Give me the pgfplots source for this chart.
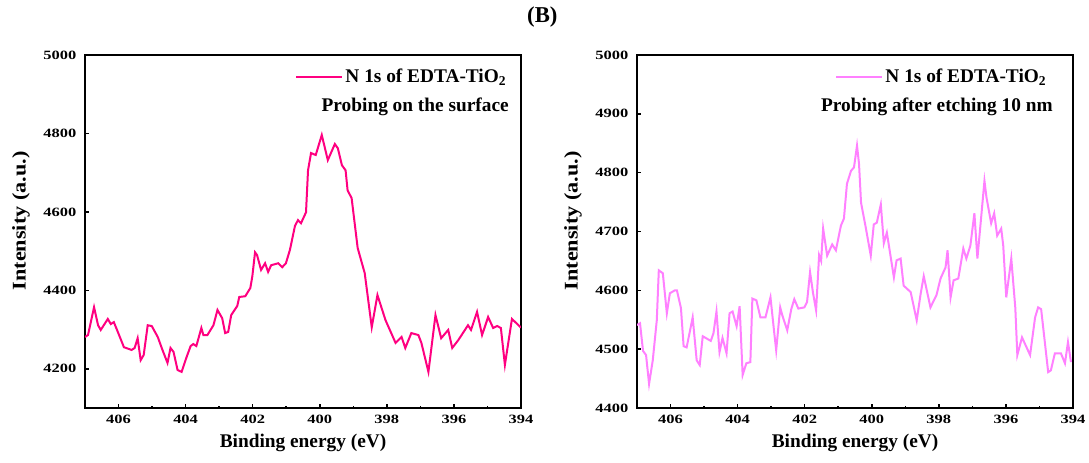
\documentclass[border=0pt]{standalone}
\usepackage{fontspec}
\setmainfont{Liberation Serif}
\usepackage{pgfplots}
\pgfplotsset{compat=1.18}
\definecolor{leftpink}{RGB}{255,0,128}
\definecolor{rightpink}{RGB}{255,128,255}

\pgfplotsset{
  xpsstyle/.style={
    width=327pt, height=264.75pt, scale only axis,
    x dir=reverse, xmin=394, xmax=407,
    xtick={394,396,...,406}, minor xtick={395,397,...,405},
    xtick pos=left, ytick pos=left,
    tick align=inside,
    major tick length=3pt, minor tick length=1.6pt,
    axis line style={line width=1.5pt},
    every tick/.style={black, line width=1.2pt},
    /pgf/number format/assume math mode=true,
    /pgf/number format/1000 sep={},
    tick label style={font=\bfseries\fontsize{9.5}{9.5}\selectfont, xscale=1.3},
    xticklabel style={yshift=-1.5pt},
    yticklabel style={xshift=-1.5pt},
    xlabel={\bfseries Binding energy (eV)},
    ylabel={\bfseries Intensity (a.u.)},
    label style={font=\bfseries\fontsize{14.5}{14.5}\selectfont},
    xlabel style={at={(axis description cs:0.5,-0.099)}, anchor=center},
    ylabel style={at={(axis description cs:-0.147,0.53)}, anchor=center, xscale=1.15},
    legend style={draw=none, fill=none, inner sep=0pt, outer sep=0pt,
      font=\bfseries\fontsize{14.5}{14.5}\selectfont, anchor=east,
      /tikz/every even column/.append style={column sep=3pt}},
    legend image code/.code={\draw[#1] (0pt,0pt) -- (34pt,0pt);},
  }
}

\begin{document}
\begin{tikzpicture}
\begin{axis}[xpsstyle, at={(0pt,0pt)}, anchor=south west,
    ymin=4100, ymax=5000, ytick={4200,4400,...,5000},
    legend style={at={(rel axis cs:0.9725,0.9377)}}]
\addplot[leftpink, line width=1.5pt] coordinates {
(407.00,4281) (406.91,4286) (406.73,4357) (406.61,4311) (406.53,4299)
(406.32,4327) (406.23,4314) (406.14,4319) (405.96,4281) (405.84,4255)
(405.61,4248) (405.52,4253) (405.43,4278) (405.34,4222) (405.25,4235)
(405.13,4311) (405.01,4309) (404.83,4281) (404.69,4248) (404.54,4215)
(404.45,4253) (404.36,4243) (404.24,4197) (404.12,4192) (403.97,4230)
(403.85,4258) (403.77,4263) (403.68,4258) (403.53,4304) (403.47,4286)
(403.35,4286) (403.17,4311) (403.05,4350) (402.91,4329) (402.82,4291)
(402.73,4294) (402.64,4337) (402.46,4360) (402.40,4383) (402.22,4385)
(402.07,4406) (402.01,4436) (401.93,4497) (401.87,4490) (401.75,4452)
(401.63,4469) (401.54,4447) (401.45,4464) (401.24,4469) (401.12,4459)
(401.01,4469) (400.89,4503) (400.74,4564) (400.65,4579) (400.56,4571)
(400.41,4599) (400.35,4706) (400.26,4750) (400.12,4745) (399.94,4796)
(399.76,4732) (399.55,4773) (399.46,4762) (399.34,4719) (399.23,4706)
(399.17,4655) (399.05,4635) (398.87,4508) (398.66,4444) (398.45,4306)
(398.28,4388) (398.04,4324) (397.74,4266) (397.56,4281) (397.45,4253)
(397.27,4291) (397.06,4286) (396.97,4266) (396.76,4192) (396.55,4337)
(396.38,4278) (396.17,4299) (396.05,4253) (395.87,4273) (395.58,4311)
(395.49,4299) (395.31,4345) (395.16,4286) (394.98,4332) (394.83,4304)
(394.71,4309) (394.60,4304) (394.48,4210) (394.27,4327) (394.00,4305)
};
\addlegendentry{N 1s of EDTA-TiO\textsubscript{2}}
\node[anchor=east, inner sep=0pt, font=\bfseries\fontsize{14.5}{14.5}\selectfont]
  at (rel axis cs:0.9725,0.8527) {Probing on the surface};
\end{axis}

\begin{axis}[xpsstyle, at={(414pt,0pt)}, anchor=south west,
    ymin=4400, ymax=5000, ytick={4400,4500,...,5000},
    legend style={at={(rel axis cs:0.945,0.9377)}}]
\addplot[rightpink, line width=1.5pt] coordinates {
(407.00,4541) (406.91,4544) (406.82,4497) (406.73,4490) (406.64,4441)
(406.53,4481) (406.41,4549) (406.35,4634) (406.23,4629) (406.11,4561)
(406.02,4595) (405.87,4600) (405.81,4600) (405.69,4570) (405.61,4505)
(405.52,4503) (405.34,4554) (405.22,4481) (405.13,4473) (405.04,4522)
(404.80,4514) (404.72,4527) (404.63,4564) (404.54,4495) (404.45,4519)
(404.33,4493) (404.24,4561) (404.15,4564) (404.03,4539) (403.94,4573)
(403.85,4456) (403.74,4476) (403.62,4478) (403.56,4586) (403.44,4583)
(403.32,4554) (403.17,4554) (403.02,4588) (402.91,4529) (402.85,4498)
(402.73,4571) (402.67,4558) (402.52,4532) (402.40,4568) (402.31,4585)
(402.19,4569) (402.01,4571) (401.93,4580) (401.84,4631) (401.75,4595)
(401.66,4566) (401.57,4660) (401.51,4650) (401.45,4705) (401.33,4659)
(401.18,4678) (401.07,4668) (400.92,4710) (400.83,4722) (400.74,4781)
(400.62,4803) (400.53,4809) (400.44,4846) (400.38,4815) (400.32,4749)
(400.18,4707) (400.03,4659) (399.94,4712) (399.85,4715) (399.73,4746)
(399.64,4680) (399.55,4698) (399.34,4622) (399.26,4651) (399.14,4654)
(399.05,4608) (398.84,4597) (398.66,4549) (398.54,4595) (398.45,4624)
(398.25,4571) (398.07,4592) (397.95,4620) (397.80,4639) (397.74,4668)
(397.65,4588) (397.56,4617) (397.42,4620) (397.27,4671) (397.18,4654)
(397.06,4676) (396.94,4731) (396.85,4654) (396.64,4786) (396.58,4758)
(396.44,4714) (396.35,4731) (396.26,4693) (396.14,4705) (396.08,4676)
(395.99,4588) (395.84,4654) (395.72,4570) (395.66,4490) (395.52,4520)
(395.28,4490) (395.13,4554) (395.04,4571) (394.95,4568) (394.74,4461)
(394.66,4464) (394.54,4493) (394.36,4493) (394.24,4476) (394.15,4512)
(394.06,4478)
};
\addlegendentry{N 1s of EDTA-TiO\textsubscript{2}}
\node[anchor=east, inner sep=0pt, font=\bfseries\fontsize{14.5}{14.5}\selectfont]
  at (rel axis cs:0.954,0.8527) {Probing after etching 10 nm};
\end{axis}

\node[font=\bfseries\fontsize{17}{17}\selectfont] at (343pt,293.25pt) {(B)};

\pgfresetboundingbox
\path[use as bounding box] (-63.75pt,-41.25pt) rectangle (753pt,306pt);
\end{tikzpicture}
\end{document}
